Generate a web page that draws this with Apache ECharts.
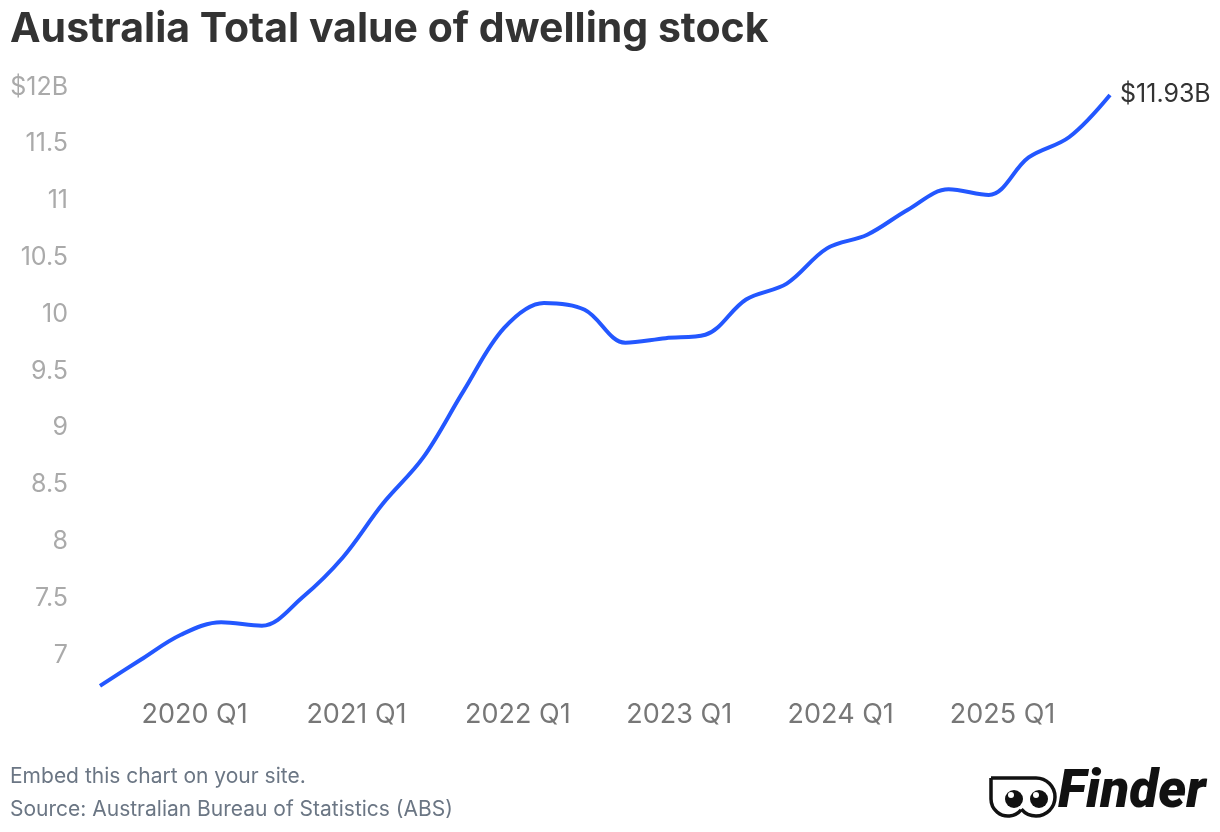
<!DOCTYPE html>
<html>
<head>
<meta charset="utf-8">
<script src="https://cdn.jsdelivr.net/npm/echarts@6/dist/echarts.min.js"></script>
<style>
html,body{margin:0;padding:0;background:#fff;}
#c{width:1220px;height:832px;}
</style>
</head>
<body>
<div id="c"></div>
<script>
// Quarterly data, Australia total value of dwelling stock
const quarters = ['2019 Q2','2019 Q3','2019 Q4','2020 Q1','2020 Q2','2020 Q3','2020 Q4',
  '2021 Q1','2021 Q2','2021 Q3','2021 Q4','2022 Q1','2022 Q2','2022 Q3','2022 Q4',
  '2023 Q1','2023 Q2','2023 Q3','2023 Q4','2024 Q1','2024 Q2','2024 Q3','2024 Q4',
  '2025 Q1','2025 Q2','2025 Q3'];
const values = [6.73,6.96,7.18,7.29,7.26,7.51,7.86,
  8.33,8.74,9.33,9.88,10.10,10.04,9.75,9.79,
  9.82,10.13,10.27,10.58,10.70,10.92,11.10,11.05,
  11.38,11.56,11.93];
const xTickLabels = ['2020 Q1','2021 Q1','2022 Q1','2023 Q1','2024 Q1','2025 Q1'];
const yTicks = [7,7.5,8,8.5,9,9.5,10,10.5,11,11.5,12];

// quarter label -> date of the first day of the quarter's last month
function qDate(q){
  const y = q.slice(0,4); const n = +q.slice(-1);
  const m = String(n*3).padStart(2,'0');
  return y + '-' + m + '-01';
}
const seriesData = quarters.map((q,i)=>[qDate(q), values[i]]);

const chart = echarts.init(document.getElementById('c'));
const FONT = 'Inter, Roboto, sans-serif';
const P = Math.PI;
const logoStroke = {fill:'none', stroke:'#111', lineWidth:3.5};
chart.setOption({
  animation:false,
  backgroundColor:'#fff',
  title:{
    text:'Australia Total value of dwelling stock',
    left:5, top:4,
    textStyle:{fontFamily:FONT, fontSize:41, fontWeight:700, color:'#333333'}
  },
  grid:{left:100, right:110, top:87, bottom:120, containLabel:false},
  xAxis:{
    type:'time',
    min:qDate(quarters[0]), max:qDate(quarters[quarters.length-1]),
    minInterval:365*24*3600*1000, maxInterval:366*24*3600*1000,
    axisLine:{show:false}, axisTick:{show:false}, splitLine:{show:false},
    axisLabel:{
      margin:-11, fontFamily:FONT, fontSize:27, color:'#777777',
      showMinLabel:false, showMaxLabel:false, hideOverlap:false,
      formatter:function(v){
        const d = new Date(v);
        if (d.getMonth()===0 && d.getDate()===1) {
          const lab = xTickLabels.find(t=>+t.slice(0,4)===d.getFullYear());
          return lab || '';
        }
        return '';
      }
    }
  },
  yAxis:{
    type:'value', min:6.5, max:yTicks[yTicks.length-1], interval:0.5,
    axisLine:{show:false}, axisTick:{show:false}, splitLine:{show:false},
    axisLabel:{
      margin:32, fontFamily:FONT, fontSize:25, color:'#aaaaaa', showMinLabel:false,
      formatter:function(v){
        if (v===yTicks[yTicks.length-1]) return '$' + v + 'B';
        return yTicks.indexOf(v)>=0 ? String(v) : '';
      }
    }
  },
  series:[{
    type:'line', data:seriesData, smooth:0.35, showSymbol:false,
    lineStyle:{color:'#2357ff', width:4},
    itemStyle:{color:'#2357ff'},
    endLabel:{
      show:true, distance:10, fontFamily:FONT, fontSize:25, color:'#333333',
      formatter:function(p){ return '$' + p.value[1].toFixed(2) + 'B'; }
    }
  }],
  graphic:[
    {type:'text', x:10, y:766, style:{text:'Embed this chart on your site.', font:'21px Inter, Roboto, sans-serif', fill:'#6b7684'}},
    {type:'text', x:10, y:799, style:{text:'Source: Australian Bureau of Statistics (ABS)', font:'21px Inter, Roboto, sans-serif', fill:'#6b7684'}},
    {type:'line', shape:{x1:991, y1:778, x2:1036, y2:778}, style:logoStroke},
    {type:'line', shape:{x1:991, y1:778, x2:991, y2:799}, style:logoStroke},
    {type:'arc', shape:{cx:1036, cy:797, r:19, startAngle:-P/2, endAngle:0.78*P, clockwise:true}, style:logoStroke},
    {type:'arc', shape:{cx:1008, cy:799, r:17, startAngle:0.22*P, endAngle:P, clockwise:true}, style:logoStroke},
    {type:'circle', shape:{cx:1014, cy:799, r:9}, style:{fill:'#111'}},
    {type:'circle', shape:{cx:1039, cy:799, r:9}, style:{fill:'#111'}},
    {type:'circle', shape:{cx:1011, cy:795, r:3}, style:{fill:'#fff'}},
    {type:'circle', shape:{cx:1036, cy:795, r:3}, style:{fill:'#fff'}},
    {type:'text', x:1058, y:767, style:{text:'Finder', font:'italic 900 53px Roboto, sans-serif', fill:'#111'}}
  ]
});
</script>
</body>
</html>
